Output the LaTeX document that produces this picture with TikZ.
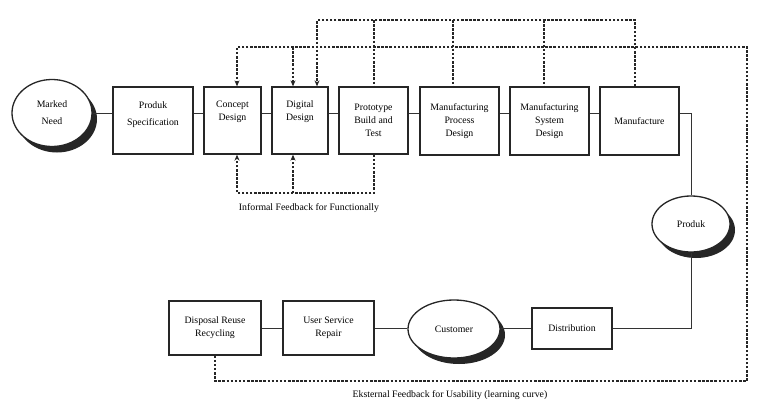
\documentclass[tikz,border=0pt]{standalone}
\usepackage{fontspec}
\setmainfont{Liberation Serif}
\usetikzlibrary{shapes.geometric,shadows,arrows.meta}
\begin{document}
\begin{tikzpicture}[x=1pt,y=-1pt,
  txt/.style={font=\fontsize{9.8}{13}\selectfont, text=black, align=center},
  box/.style={draw=black!85, line width=1.3pt, fill=white, inner sep=0pt, txt},
  oval/.style={ellipse, draw=black!85, line width=1.3pt, fill=white, inner sep=0pt, txt,
     general shadow={fill=black!85, shadow xshift=5pt, shadow yshift=-6pt}},
  link/.style={draw=black!80, line width=1pt},
  fb/.style={draw=black!85, line width=1.1pt, dash pattern=on 2.5pt off 1.6pt},
  fbarrow/.style={fb, -{Stealth[length=6pt,width=5pt]}},
  lbl/.style={font=\fontsize{9.8}{11}\selectfont, text=black}
]
\useasboundingbox (0,0) rectangle (774,410);
\fill[white] (0,0) rectangle (774,410);

% top row
\node[oval, minimum width=80pt, minimum height=67pt] (need) at (52,113) {Marked\\[4pt]Need};
\node[box, minimum width=80pt, minimum height=67pt,
  label={[txt, yshift=6pt]center:Produk\\[4pt]Specification}] (spec) at (153,120.5) {};
\node[box, minimum width=57pt, minimum height=67pt,
  label={[txt, yshift=9pt]center:Concept\\Design}] (concept) at (232.5,120.5) {};
\node[box, minimum width=56pt, minimum height=67pt,
  label={[txt, yshift=9pt]center:Digital\\Design}] (digital) at (300,120.5) {};
\node[box, minimum width=69pt, minimum height=67pt] (proto) at (373.5,120.5) {Prototype\\Build and\\Test};
\node[box, minimum width=79pt, minimum height=68pt] (mpd) at (459.5,121) {Manufacturing\\Process\\Design};
\node[box, minimum width=79pt, minimum height=68pt] (msd) at (549.5,121) {Manufacturing\\System\\Design};
\node[box, minimum width=79pt, minimum height=68pt] (manuf) at (639.5,121) {Manufacture};

% right / bottom
\node[oval, minimum width=78pt, minimum height=56pt] (produk) at (691,224) {Produk};
\node[box, minimum width=80pt, minimum height=41pt] (dist) at (572,328.5) {Distribution};
\node[oval, minimum width=92pt, minimum height=58pt] (cust) at (454,329) {Customer};
\node[box, minimum width=91pt, minimum height=54pt] (user) at (328.5,328) {User Service\\Repair};
\node[box, minimum width=92pt, minimum height=54pt] (disp) at (215,328) {Disposal Reuse\\Recycling};

% solid links
\draw[link] (need) -- (need -| spec.west);
\draw[link] (spec.east |- need) -- (concept.west |- need);
\draw[link] (concept.east |- need) -- (digital.west |- need);
\draw[link] (digital.east |- need) -- (proto.west |- need);
\draw[link] (proto.east |- need) -- (mpd.west |- need);
\draw[link] (mpd.east |- need) -- (msd.west |- need);
\draw[link] (msd.east |- need) -- (manuf.west |- need);
\draw[link] (manuf.east |- need) -| (produk.north);
\draw[link] (produk.south) |- (dist.east);
\draw[link] (dist.west) -- (dist.west -| cust.east);
\draw[link] (cust.west |- user.east) -- (user.east);
\draw[link] (user.west) -- (disp.east);

% feedback coordinates
\coordinate (L1) at (237,47);
\coordinate (L2) at (293,47);
\coordinate (U1) at (317,20);
\coordinate (U2) at (635,20);
\coordinate (P)  at (374,20);
\coordinate (M1) at (453,20);
\coordinate (M2) at (544,20);
\coordinate (E1) at (747,381);
\coordinate (I1) at (237,193);
\coordinate (I2) at (293,193);
\coordinate (I3) at (374,193);

% external feedback
\draw[fbarrow] (disp.south) |- (E1) |- (L1) -- (L1 |- concept.north);
\draw[fbarrow] (L2) -- (L2 |- digital.north);
% upper feedback
\draw[fbarrow] (U2 |- manuf.north) |- (U1) -- (U1 |- digital.north);
\draw[fb] (P) -- (P |- proto.north);
\draw[fb] (M1) -- (M1 |- mpd.north);
\draw[fb] (M2) -- (M2 |- msd.north);
% informal feedback
\draw[fbarrow] (I3 |- proto.south) |- (I1) -- (I1 |- concept.south);
\draw[fbarrow] (I2) -- (I2 |- digital.south);

\node[lbl] (inf) at (309,208) {Informal Feedback for Functionally};
\node[lbl] (ext) at (450,395) {Eksternal Feedback for Usability (learning curve)};
\end{tikzpicture}
\end{document}
